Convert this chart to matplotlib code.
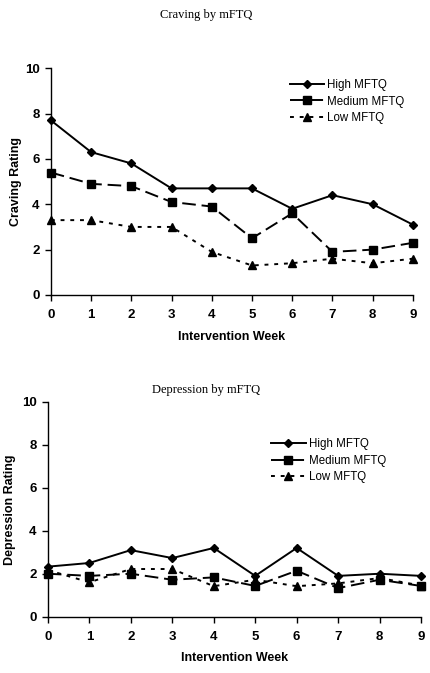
import numpy as np
import matplotlib
matplotlib.use("Agg")
import matplotlib.pyplot as plt

weeks = np.arange(10)

craving_high = [7.7, 6.3, 5.8, 4.7, 4.7, 4.7, 3.8, 4.4, 4.0, 3.1]
craving_medium = [5.4, 4.9, 4.8, 4.1, 3.9, 2.5, 3.6, 1.9, 2.0, 2.3]
craving_low = [3.3, 3.3, 3.0, 3.0, 1.9, 1.3, 1.4, 1.6, 1.4, 1.6]

depr_high = [2.33, 2.5, 3.1, 2.73, 3.2, 1.9, 3.2, 1.9, 2.0, 1.9]
depr_medium = [2.0, 1.9, 2.0, 1.72, 1.83, 1.43, 2.14, 1.33, 1.72, 1.43]
depr_low = [2.17, 1.6, 2.22, 2.22, 1.42, 1.72, 1.42, 1.55, 1.8, 1.45]

labels = ["High MFTQ", "Medium MFTQ", "Low MFTQ"]

plt.rcParams['font.family'] = ['Liberation Sans', 'DejaVu Sans']

fig = plt.figure(figsize=(4.31, 6.73), dpi=100)


def desenha(ax, high, medium, low, ylabel, ylabelpad, leg_anchor):
    ax.plot(weeks, high, color='black', lw=1.4, marker='D', ms=4.5, label=labels[0])
    ax.plot(weeks, medium, color='black', lw=1.4, marker='s', ms=6,
            dashes=(7, 3), label=labels[1])
    ax.plot(weeks, low, color='black', lw=1.4, marker='^', ms=6,
            dashes=(2, 3), label=labels[2])
    ax.set_xlim(0, 9)
    ax.set_ylim(0, 10)
    ax.set_xticks(weeks)
    ax.set_yticks([0, 2, 4, 6, 8, 10])
    for s in ['top', 'right']:
        ax.spines[s].set_visible(False)
    for s in ['left', 'bottom']:
        ax.spines[s].set_linewidth(1.0)
    ax.tick_params(direction='out', length=4, width=1, labelsize=9.5)
    ax.tick_params(axis='x', pad=6)
    ax.tick_params(axis='y', pad=4)
    for t in ax.get_xticklabels() + ax.get_yticklabels():
        t.set_fontweight('bold')
    ax.set_xlabel('Intervention Week', fontsize=9, fontweight='bold', labelpad=7)
    ax.set_ylabel(ylabel, fontsize=9, fontweight='bold', labelpad=ylabelpad)
    for ln in ax.get_lines():
        ln.set_clip_on(False)
    ax.legend(frameon=False, loc='upper left', bbox_to_anchor=leg_anchor,
              fontsize=8.3, handlelength=3.0, handletextpad=0.25,
              labelspacing=0.38, borderaxespad=0)
    return ax


ax1 = fig.add_axes([0.118, 0.5617, 0.840, 0.337])
desenha(ax1, craving_high, craving_medium, craving_low,
        'Craving Rating', 2, (0.647, 0.972))
fig.text(0.478, 0.977, 'Craving by mFTQ', family='Liberation Serif',
         fontsize=9, ha='center', va='center')

ax2 = fig.add_axes([0.111, 0.0837, 0.866, 0.319])
desenha(ax2, depr_high, depr_medium, depr_low,
        'Depression Rating', 4.5, (0.586, 0.852))
fig.text(0.478, 0.42, 'Depression by mFTQ', family='Liberation Serif',
         fontsize=9, ha='center', va='center')

fig.savefig('out.png', dpi=100)
